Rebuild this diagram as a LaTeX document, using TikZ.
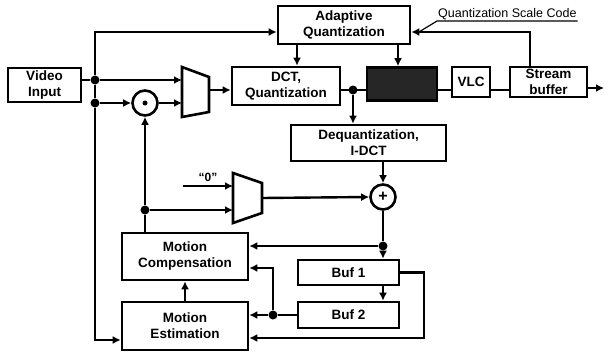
\documentclass[tikz,border=0pt]{standalone}
\usepackage{fontspec}
\setmainfont{Liberation Sans}
\usetikzlibrary{arrows.meta,calc}
\begin{document}
\begin{tikzpicture}[x=1pt,y=-1pt,
  box/.style={draw,line width=2.6pt,font=\bfseries\fontsize{13.5}{16}\selectfont,align=center,inner sep=0pt},
  wire/.style={line width=2.4pt},
  arr/.style={wire,-{Latex[length=8pt,width=8pt]}},
  jdot/.style={circle,fill,inner sep=0pt,minimum size=9pt},
  sumnode/.style={circle,draw,line width=2.6pt,minimum size=25pt,inner sep=0pt,font=\bfseries\fontsize{16}{16}\selectfont},
  muxshape/.style={draw,line width=2.6pt,line join=miter}
]
\useasboundingbox[fill=white] (0,0) rectangle (605,353);

% boxes
\node[box,minimum width=73pt,minimum height=34pt] (vin) at (44.5,85) {Video\\Input};
\node[box,minimum width=132pt,minimum height=38pt] (aq) at (344,25) {Adaptive\\Quantization};
\node[box,minimum width=108pt,minimum height=38pt] (dct) at (286,86) {DCT,\\Quantization};
\node[box,fill=black!85,minimum width=70pt,minimum height=33pt] (dark) at (402,84) {};
\node[box,minimum width=38pt,minimum height=30pt] (vlc) at (471,82) {VLC};
\node[box,minimum width=77pt,minimum height=30pt] (sb) at (548.5,82) {Stream\\buffer};
\node[box,minimum width=155pt,minimum height=36pt] (deq) at (368.5,143) {Dequantization,\\I-DCT};
\node[box,minimum width=126pt,minimum height=47pt] (mc) at (185,256.5) {Motion\\Compensation};
\node[box,minimum width=126pt,minimum height=48pt] (me) at (185,326) {Motion\\Estimation};
\node[box,minimum width=101pt,minimum height=25pt] (buf1) at (348.5,272.5) {Buf 1};
\node[box,minimum width=101pt,minimum height=26pt] (buf2) at (348.5,315) {Buf 2};

% summing junctions
\node[sumnode] (sub) at (145,103) {};
\fill (sub.center) circle (2.5pt);
\node[sumnode] (add) at (383,197) {+};

% multiplexers
\draw[muxshape] (182,67) -- (209,77) -- (209,112) -- (182,117) -- cycle;
\coordinate (m1a) at (182,80);
\coordinate (m1b) at (182,103);
\coordinate (m1o) at (209,90);
\draw[muxshape] (233,173) -- (262,183) -- (262,213) -- (233,223) -- cycle;
\coordinate (m2a) at (233,186);
\coordinate (m2b) at (233,210);
\coordinate (m2o) at (262,198);

% junction dots
\node[jdot] (j1) at (95,80) {};
\node[jdot] (j2) at (95,103) {};
\node[jdot] (j3) at (353,90) {};
\node[jdot] (j4) at (145,210) {};
\node[jdot] (j5) at (383,246) {};
\node[jdot] (j6) at (273,315) {};

% connectors top part
\draw[wire] (vin.east |- j1) -- (j1);
\draw[arr] (j1) -- (m1a);
\draw[arr] (j1) -- (95,32) -- (aq.west |- 0,32);
\draw[wire] (j1) -- (j2);
\draw[arr] (j2) -- (sub.west);
\draw[arr] (sub.east) -- (m1b);
\draw[arr] (j2) -- (95,340) -- (me.west |- 0,340);
\draw[arr] (m1o) -- (dct.west |- m1o);
\draw[arr] (aq.south -| 297,0) -- (dct.north -| 297,0);
\draw[arr] (aq.south -| 398,0) -- (dark.north -| 398,0);
\draw[wire] (dct.east |- j3) -- (dark.west |- j3);
\draw[wire] (dark.east |- j3) -- (vlc.west |- j3);
\draw[wire] (vlc.east |- j3) -- (sb.west |- j3);
\coordinate (sbout) at (604,88);
\draw[arr] (sb.east |- sbout) -- (sbout);
\draw[arr] (j3) -- (deq.north -| j3);
\draw[arr] (sb.north -| 530,0) -- (530,32) -- (aq.east |- 0,32);

% quantization scale code label
\node[font=\fontsize{12.5}{14}\selectfont,inner sep=1pt,anchor=south west] (qsc) at (437,21) {Quantization Scale Code};
\draw[line width=1.2pt] (qsc.south east) -- (qsc.south west) -- (419,32);

% lower part
\draw[arr] (deq.south -| add) -- (add.north);
\draw[arr] (m2o) -- (add.west);
\node[font=\bfseries\fontsize{12}{14}\selectfont,inner sep=0pt] (zero) at (208,177) {``0''};
\coordinate (zin) at (183,186);
\draw[arr] (zin) -- (m2a);
\draw[arr] (j4) -- (m2b);
\draw[wire] (mc.north -| j4) -- (j4);
\draw[arr] (j4) -- (sub.south);
\draw[wire] (add.south) -- (j5);
\draw[arr] (j5) -- (buf1.north -| j5);
\draw[arr] (j5) -- (mc.east |- j5);
\draw[arr] (buf1.south -| 383,0) -- (buf2.north -| 383,0);
\draw[arr] (buf1.east) -- (424,272.5) -- (424,338) -- (me.east |- 0,338);
\draw[wire] (buf2.west) -- (j6);
\draw[arr] (j6) -- (me.east |- j6);
\draw[arr] (j6) -- (273,268) -- (mc.east |- 0,268);
\draw[arr] (me.north) -- (mc.south);
\end{tikzpicture}
\end{document}
